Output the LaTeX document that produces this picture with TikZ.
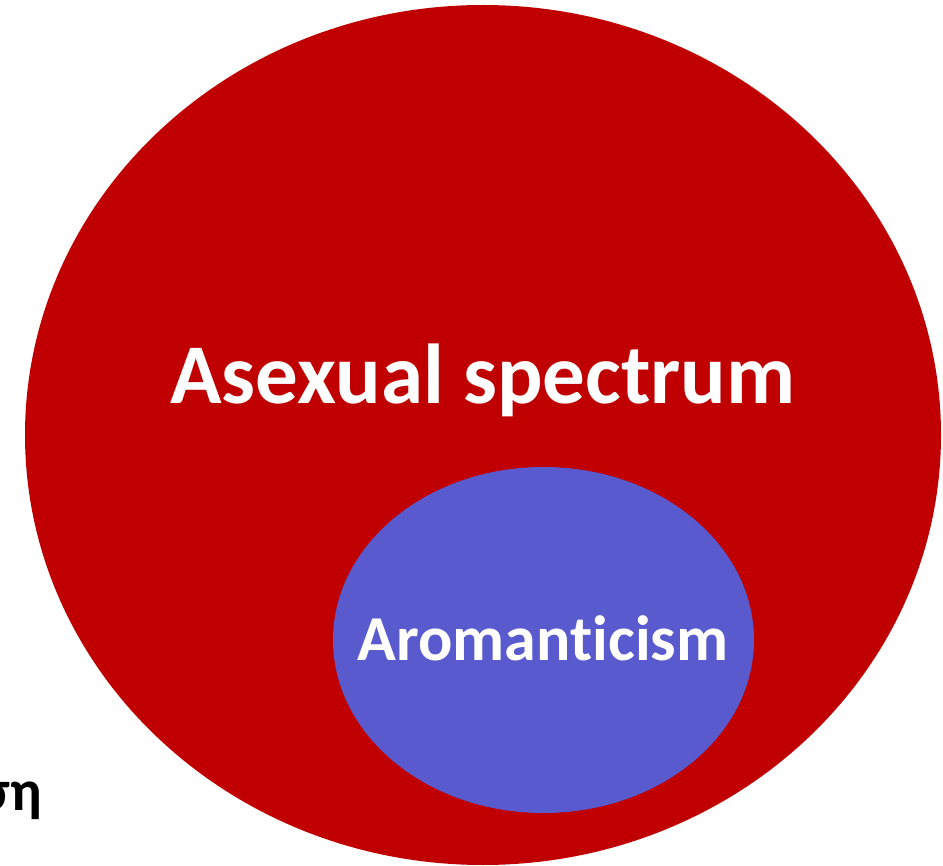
\documentclass[tikz,border=0pt]{standalone}
\usepackage{fontspec}
\setmainfont[Ligatures=NoCommon]{Carlito}
\definecolor{asered}{RGB}{192,0,0}
\definecolor{aroblue}{RGB}{90,90,207}
\begin{document}
\begin{tikzpicture}[x=1pt,y=-1pt,
  lbl/.style={font=\bfseries, text=white, inner sep=0pt, anchor=base}]
\useasboundingbox (0,0) rectangle (943,866);
\begin{scope}
\clip (0,0) rectangle (943,866);
\fill[asered] (483,435) ellipse [x radius=458, y radius=430];
\fill[aroblue] (543.5,640) ellipse [x radius=210.5, y radius=173];
\node[lbl, font=\fontsize{85}{90}\selectfont\bfseries] (ase) at (483,404) {Asexual spectrum};
\node[lbl, font=\fontsize{64}{68}\selectfont\bfseries] (aro) at (543,660) {Aromanticism};
\node[font=\fontsize{58}{64}\selectfont\bfseries, inner sep=0pt, anchor=base east] (gr) at (42,810) {ση};
\end{scope}
\end{tikzpicture}
\end{document}
